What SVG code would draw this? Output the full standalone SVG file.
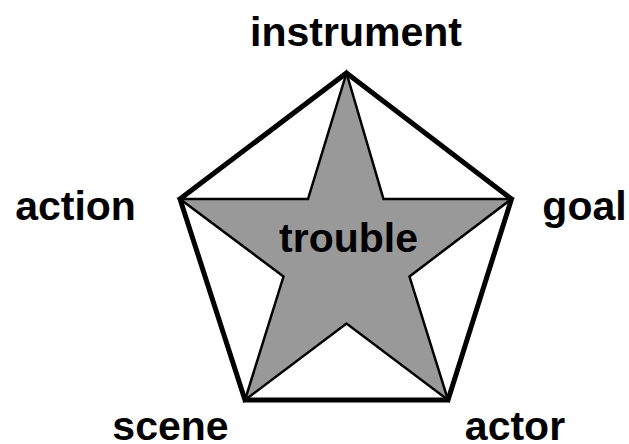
<svg xmlns="http://www.w3.org/2000/svg" width="629" height="444" viewBox="0 0 629 444">
<style>
.lbl{font-family:"Liberation Sans",Arial,sans-serif;font-weight:bold;font-size:41px;fill:#000;text-anchor:middle}
</style>
<rect width="629" height="444" fill="#fff"/>
<g id="connectors">
<polygon id="star" points="346.5,73 383.5,199 511.5,199 409.5,276.5 448,400 346.5,323.5 245,400 283.5,276.5 180,199 308,199" fill="#999999" stroke="#000" stroke-width="2.5" stroke-linejoin="miter"/>
<polygon id="pentagon" points="346.5,73 511.5,199 448,400 245,400 180,199" fill="none" stroke="#000" stroke-width="5" stroke-linejoin="miter"/>
</g>
<g id="instrument"><text class="lbl" x="356" y="46">instrument</text></g>
<g id="action"><text class="lbl" x="75.5" y="220">action</text></g>
<g id="goal"><text class="lbl" x="584.5" y="220">goal</text></g>
<g id="trouble"><text class="lbl" x="348.5" y="252">trouble</text></g>
<g id="scene"><text class="lbl" x="170.5" y="440">scene</text></g>
<g id="actor"><text class="lbl" x="515" y="440">actor</text></g>
</svg>
